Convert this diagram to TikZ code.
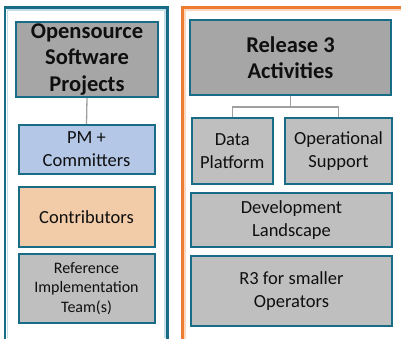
\documentclass[tikz,border=0pt]{standalone}
\usepackage{fontspec}
\setmainfont{Carlito}
\usetikzlibrary{calc}
\definecolor{teal1}{RGB}{24,108,134}
\definecolor{tealL}{RGB}{200,222,230}
\definecolor{orng}{RGB}{237,125,49}
\definecolor{orngL}{RGB}{250,215,190}
\definecolor{dgray}{RGB}{166,166,166}
\definecolor{lgray}{RGB}{191,191,191}
\definecolor{lblue}{RGB}{180,199,231}
\definecolor{peach}{RGB}{242,203,168}
\definecolor{conn}{RGB}{160,160,160}
\definecolor{txt}{RGB}{15,15,15}
\tikzset{
  box/.style={draw=teal1, line width=2pt, rectangle, inner sep=0pt, align=center, text=txt},
  titlebox/.style={box, fill=dgray, font=\fontsize{22.5}{26.5}\selectfont\bfseries},
  itembox/.style={box, fill=lgray, font=\fontsize{18.5}{23}\selectfont},
  link/.style={draw=conn, line width=1.3pt}
}
\begin{document}
\begin{tikzpicture}[x=1pt,y=-1pt]
\useasboundingbox (0,0) rectangle (401,338);
\fill[white] (0,0) rectangle (401,338);
% frames
\draw[tealL, line width=1.5pt] (7.5,338) -- (7.5,10) -- (165,10) -- (165,338);
\draw[teal1, line width=2.2pt] (5,340) -- (5,7.5) -- (167.5,7.5) -- (167.5,340);
\draw[orngL, line width=1.5pt] (185,340) -- (185,10) -- (403,10);
\draw[orng, line width=2.2pt] (182.5,340) -- (182.5,7.5) -- (403,7.5);
% left column
\node[titlebox, minimum width=142pt, minimum height=75pt] (osp) at (87,59.5) {Opensource\\Software\\Projects};
\node[itembox, fill=lblue, minimum width=136pt, minimum height=49pt] (pm) at (86.5,149.5) {PM +\\Committers};
\node[itembox, fill=peach, minimum width=136pt, minimum height=60pt] (con) at (86.5,217) {Contributors};
\node[itembox, font=\fontsize{16}{19.5}\selectfont, minimum width=136pt, minimum height=69pt] (ref) at (86.5,288.5) {Reference\\Implementation\\Team(s)};
\draw[link] (osp.south) -- (pm.north);
% right column
\node[titlebox, minimum width=201pt, minimum height=75pt] (rel) at (290.5,57.5) {Release 3\\Activities};
\node[itembox, minimum width=81.5pt, minimum height=66pt] (dp) at (232.25,151) {Data\\Platform};
\node[itembox, minimum width=107pt, minimum height=66pt] (ops) at (338.5,151) {Operational\\Support};
\node[itembox, minimum width=201pt, minimum height=54pt] (dev) at (291.5,220) {Development\\Landscape};
\node[itembox, minimum width=201pt, minimum height=70pt] (r3) at (291.5,291) {R3 for smaller\\Operators};
\coordinate (j) at ($(rel.south)+(0,11)$);
\draw[link] (rel.south) -- (j);
\draw[link] (j) -| (dp.north);
\draw[link] (j) -| (ops.north);
\end{tikzpicture}
\end{document}
